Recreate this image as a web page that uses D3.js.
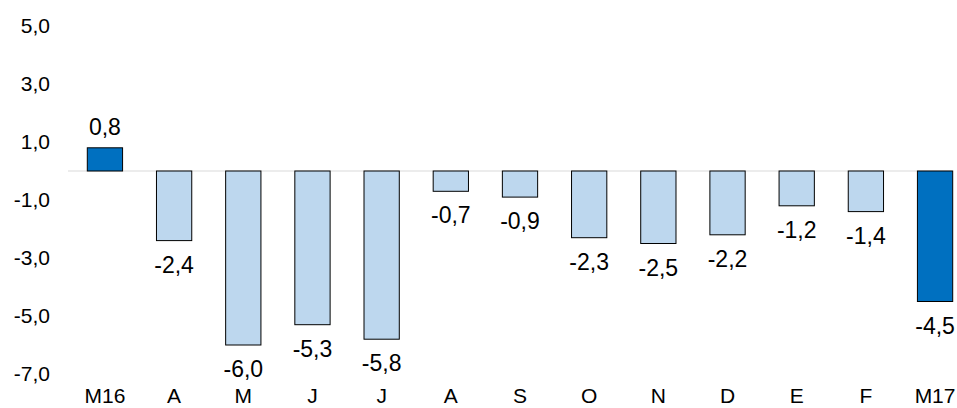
<!DOCTYPE html>
<html><head><meta charset="utf-8">
<script src="https://cdn.jsdelivr.net/npm/d3@7"></script>
<style>body{margin:0;background:#fff}text{font-family:"Liberation Sans",Arial,sans-serif;fill:#000}</style>
</head><body><svg id="c" width="957" height="408"></svg>
<script>
const categories=["M16","A","M","J","J","A","S","O","N","D","E","F","M17"];
const values=[0.8,-2.4,-6.0,-5.3,-5.8,-0.7,-0.9,-2.3,-2.5,-2.2,-1.2,-1.4,-4.5];
const highlight=[true,false,false,false,false,false,false,false,false,false,false,false,true];
const yTicks=[5,3,1,-1,-3,-5,-7];
const svg=d3.select("#c");
const y=d3.scaleLinear().domain([0,1]).range([171,142]);
const x=d3.scaleBand().domain(d3.range(categories.length)).range([70,970]).paddingInner(0.49).paddingOuter(0.25);
const fmt=v=>v.toFixed(1).replace(".",",");
svg.append("line").attr("x1",68).attr("x2",952).attr("y1",y(0)).attr("y2",y(0)).attr("stroke","#d9d9d9").attr("stroke-width",1);
svg.selectAll("text.yt").data(yTicks).join("text").attr("x",50).attr("y",d=>y(d)+7).attr("text-anchor","end").attr("font-size",21).text(fmt);
svg.selectAll("rect").data(values).join("rect")
 .attr("x",(d,i)=>x(i)).attr("width",x.bandwidth())
 .attr("y",d=>y(Math.max(0,d))).attr("height",d=>Math.abs(y(d)-y(0)))
 .attr("fill",(d,i)=>highlight[i]?"#0070C0":"#BDD7EE").attr("stroke","#000").attr("stroke-width",1);
svg.selectAll("text.v").data(values).join("text").attr("text-anchor","middle").attr("font-size",23)
 .attr("x",(d,i)=>x(i)+x.bandwidth()/2).attr("y",d=>d>=0?y(d)-13:y(d)+32).text(fmt);
svg.selectAll("text.c").data(categories).join("text").attr("text-anchor","middle").attr("font-size",21)
 .attr("x",(d,i)=>x(i)+x.bandwidth()/2).attr("y",403).text(d=>d);
</script></body></html>
